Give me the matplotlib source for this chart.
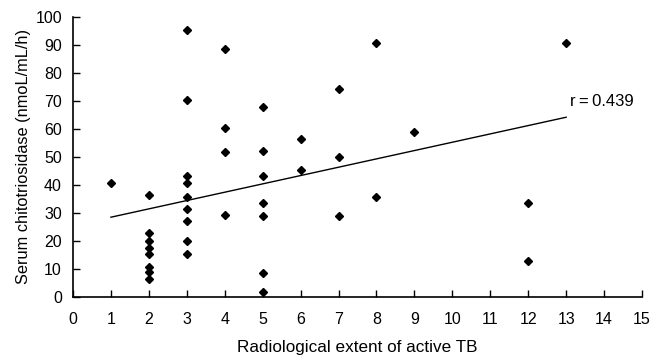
import numpy as np
import matplotlib.pyplot as plt

plt.rcParams['font.family'] = ['Liberation Sans', 'DejaVu Sans']

# radiological extent vs serum chitotriosidase
extent = [1,
          2, 2, 2, 2, 2, 2, 2, 2,
          3, 3, 3, 3, 3, 3, 3, 3, 3,
          4, 4, 4, 4,
          5, 5, 5, 5, 5, 5, 5,
          6, 6,
          7, 7, 7,
          8, 8,
          9,
          12, 12,
          13]
chito = [40.7,
         36.4, 22.9, 20.0, 17.5, 15.4, 10.7, 8.9, 6.4,
         95.4, 70.4, 43.3, 40.7, 35.8, 31.5, 27.3, 19.9, 15.4,
         88.4, 60.5, 51.7, 29.2,
         68.0, 52.1, 43.2, 33.6, 28.8, 8.5, 1.7,
         56.5, 45.5,
         74.4, 50.0, 28.8,
         90.6, 35.8,
         59.0,
         33.6, 13.0,
         90.6]

# regression line end points
line_x = [1, 13]
line_y = [28.5, 64.2]

fig = plt.figure(figsize=(6.53, 3.62), dpi=100)
ax = fig.add_axes([73/653, 1-297/362, (642-73)/653, (297-17)/362])

ax.plot(extent, chito, 'kD', markersize=4.2)
ax.plot(line_x, line_y, 'k-', linewidth=1)
ax.text(13.1, 67, 'r\u2009=\u20090.439', fontsize=12, ha='left', va='bottom')

ax.set_xlim(0, 15)
ax.set_ylim(0, 100)
ax.set_xticks(range(0, 16))
ax.set_yticks(range(0, 101, 10))
ax.tick_params(direction='in', length=5, width=1, labelsize=11.5)
ax.tick_params(axis='x', pad=11)
ax.tick_params(axis='y', pad=8)
for s in ['top', 'right']:
    ax.spines[s].set_visible(False)
for s in ['left', 'bottom']:
    ax.spines[s].set_linewidth(1.2)
ax.set_xlabel('Radiological extent of active TB', fontsize=12.3, labelpad=9)
ax.set_ylabel('Serum chitotriosidase (nmoL/mL/h)', fontsize=11.8, labelpad=3)

plt.savefig('out.png', dpi=100)
